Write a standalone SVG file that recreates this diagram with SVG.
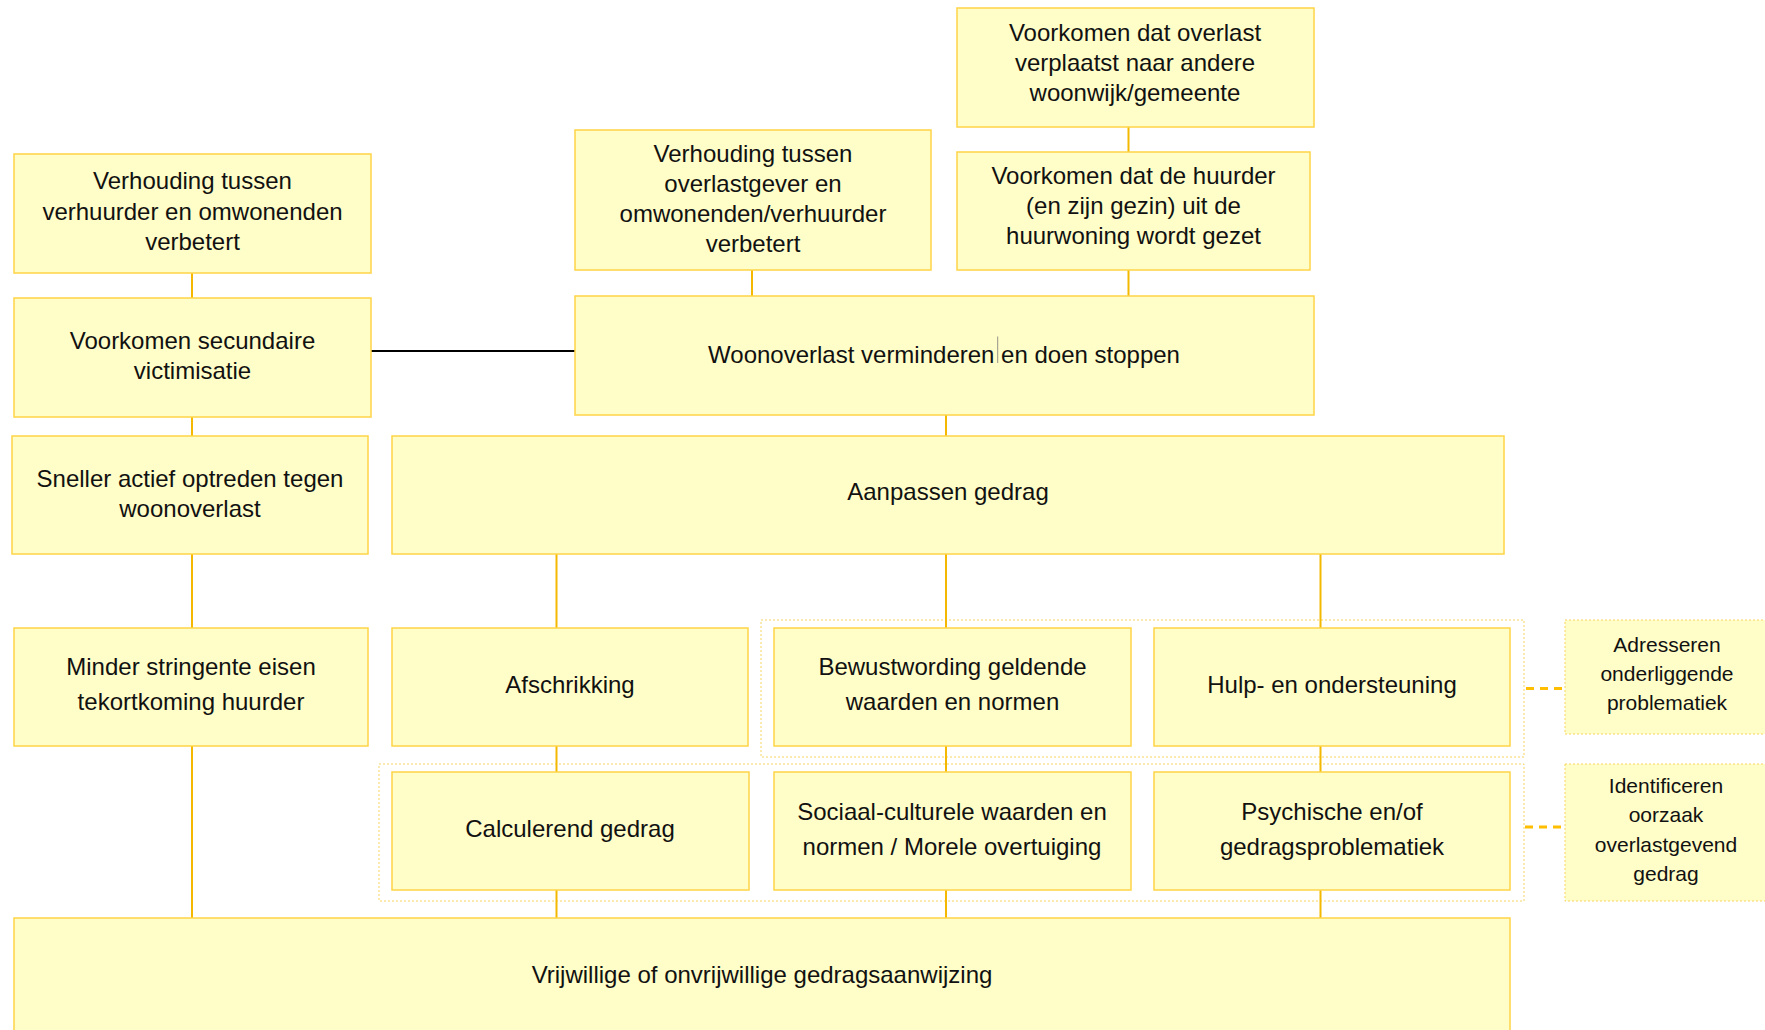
<svg xmlns="http://www.w3.org/2000/svg" width="1765" height="1030" viewBox="0 0 1765 1030">
<style>
  .box { fill: #FFFDC8; stroke: #FFD447; stroke-width: 1.5; }
  .grp { fill: none; stroke: #F7D560; stroke-width: 1; stroke-dasharray: 2 2; }
  .dbox { fill: #FFFDC8; stroke: #F7D560; stroke-width: 1; stroke-dasharray: 2 2; }
  .t { font-family: "Liberation Sans", Arial, sans-serif; font-size: 24px; fill: #111; text-anchor: middle; }
  .ts { font-family: "Liberation Sans", Arial, sans-serif; font-size: 21px; fill: #111; text-anchor: middle; }
  .c { stroke: #F5B800; stroke-width: 2; fill: none; }
  .cb { stroke: #000; stroke-width: 2; fill: none; }
  .cd { stroke: #FFBE00; stroke-width: 3; stroke-dasharray: 8 6; fill: none; }
</style>
<rect width="1765" height="1030" fill="#fff"/>

<g id="groups">
  <rect class="grp" x="761" y="620" width="763" height="137"/>
  <rect class="grp" x="379" y="764" width="1145" height="137"/>
</g>

<g id="connectors">
  <line class="c" x1="1128.5" y1="127" x2="1128.5" y2="152"/>
  <line class="c" x1="752" y1="270" x2="752" y2="296"/>
  <line class="c" x1="1128.5" y1="270" x2="1128.5" y2="296"/>
  <line class="c" x1="192" y1="273" x2="192" y2="298"/>
  <line class="cb" x1="371" y1="351" x2="575" y2="351"/>
  <line class="c" x1="192" y1="417" x2="192" y2="436"/>
  <line class="c" x1="946" y1="415" x2="946" y2="436"/>
  <line class="c" x1="192" y1="554" x2="192" y2="628"/>
  <line class="c" x1="556.5" y1="554" x2="556.5" y2="628"/>
  <line class="c" x1="946" y1="554" x2="946" y2="628"/>
  <line class="c" x1="1320.5" y1="554" x2="1320.5" y2="628"/>
  <line class="c" x1="556.5" y1="746" x2="556.5" y2="772"/>
  <line class="c" x1="946" y1="746" x2="946" y2="772"/>
  <line class="c" x1="1320.5" y1="746" x2="1320.5" y2="772"/>
  <line class="c" x1="192" y1="746" x2="192" y2="918"/>
  <line class="c" x1="556.5" y1="890" x2="556.5" y2="918"/>
  <line class="c" x1="946" y1="890" x2="946" y2="918"/>
  <line class="c" x1="1320.5" y1="890" x2="1320.5" y2="918"/>
  <line class="cd" x1="1526" y1="688.5" x2="1564" y2="688.5"/>
  <line class="cd" x1="1525" y1="827" x2="1564" y2="827"/>
</g>

<g id="n1">
  <rect class="box" x="957" y="8" width="357" height="119"/>
  <text class="t" x="1135" y="40.5">Voorkomen dat overlast</text>
  <text class="t" x="1135" y="70.5">verplaatst naar andere</text>
  <text class="t" x="1135" y="100.5">woonwijk/gemeente</text>
</g>
<g id="n2">
  <rect class="box" x="957" y="152" width="353" height="118"/>
  <text class="t" x="1133.5" y="183.5">Voorkomen dat de huurder</text>
  <text class="t" x="1133.5" y="213.5">(en zijn gezin) uit de</text>
  <text class="t" x="1133.5" y="243.5">huurwoning wordt gezet</text>
</g>
<g id="n3">
  <rect class="box" x="575" y="130" width="356" height="140"/>
  <text class="t" x="753" y="161.7">Verhouding tussen</text>
  <text class="t" x="753" y="191.7">overlastgever en</text>
  <text class="t" x="753" y="221.7">omwonenden/verhuurder</text>
  <text class="t" x="753" y="251.7">verbetert</text>
</g>
<g id="n4">
  <rect class="box" x="14" y="154" width="357" height="119"/>
  <text class="t" x="192.5" y="189.3">Verhouding tussen</text>
  <text class="t" x="192.5" y="220">verhuurder en omwonenden</text>
  <text class="t" x="192.5" y="250">verbetert</text>
</g>
<g id="n5">
  <rect class="box" x="14" y="298" width="357" height="119"/>
  <text class="t" x="192.5" y="349">Voorkomen secundaire</text>
  <text class="t" x="192.5" y="379">victimisatie</text>
</g>
<g id="n6">
  <rect class="box" x="575" y="296" width="739" height="119"/>
  <text class="t" x="944" y="363">Woonoverlast verminderen en doen stoppen</text>
  <line x1="997.7" y1="336.5" x2="997.7" y2="363" stroke="#777" stroke-width="0.8"/>
</g>
<g id="n7">
  <rect class="box" x="12" y="436" width="356" height="118"/>
  <text class="t" x="190" y="486.7">Sneller actief optreden tegen</text>
  <text class="t" x="190" y="516.7">woonoverlast</text>
</g>
<g id="n8">
  <rect class="box" x="392" y="436" width="1112" height="118"/>
  <text class="t" x="948" y="500">Aanpassen gedrag</text>
</g>
<g id="n9">
  <rect class="box" x="14" y="628" width="354" height="118"/>
  <text class="t" x="191" y="675">Minder stringente eisen</text>
  <text class="t" x="191" y="710">tekortkoming huurder</text>
</g>
<g id="n10">
  <rect class="box" x="392" y="628" width="356" height="118"/>
  <text class="t" x="570" y="693">Afschrikking</text>
</g>
<g id="n11">
  <rect class="box" x="774" y="628" width="357" height="118"/>
  <text class="t" x="952.5" y="675">Bewustwording geldende</text>
  <text class="t" x="952.5" y="710">waarden en normen</text>
</g>
<g id="n12">
  <rect class="box" x="1154" y="628" width="356" height="118"/>
  <text class="t" x="1332" y="693">Hulp- en ondersteuning</text>
</g>
<g id="n13">
  <rect class="dbox" x="1565" y="620" width="220" height="114"/>
  <text class="ts" x="1667" y="651.7">Adresseren</text>
  <text class="ts" x="1667" y="681">onderliggende</text>
  <text class="ts" x="1667" y="710">problematiek</text>
</g>
<g id="n14">
  <rect class="box" x="392" y="772" width="357" height="118"/>
  <text class="t" x="570" y="836.7">Calculerend gedrag</text>
</g>
<g id="n15">
  <rect class="box" x="774" y="772" width="357" height="118"/>
  <text class="t" x="952" y="820">Sociaal-culturele waarden en</text>
  <text class="t" x="952" y="855">normen / Morele overtuiging</text>
</g>
<g id="n16">
  <rect class="box" x="1154" y="772" width="356" height="118"/>
  <text class="t" x="1332" y="820">Psychische en/of</text>
  <text class="t" x="1332" y="855">gedragsproblematiek</text>
</g>
<g id="n17">
  <rect class="dbox" x="1565" y="764" width="220" height="137"/>
  <text class="ts" x="1666" y="793.3">Identificeren</text>
  <text class="ts" x="1666" y="822.3">oorzaak</text>
  <text class="ts" x="1666" y="851.7">overlastgevend</text>
  <text class="ts" x="1666" y="880.7">gedrag</text>
</g>
<g id="n18">
  <rect class="box" x="14" y="918" width="1496" height="130"/>
  <text class="t" x="762" y="983.3">Vrijwillige of onvrijwillige gedragsaanwijzing</text>
</g>
</svg>
